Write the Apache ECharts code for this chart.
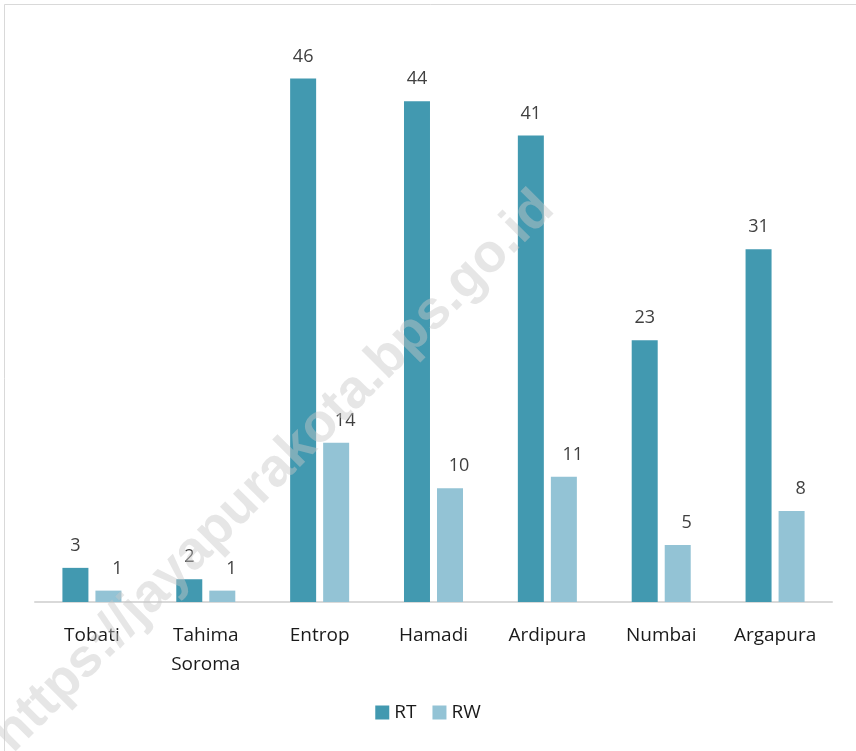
<!DOCTYPE html>
<html><head><meta charset="utf-8">
<script src="https://cdn.jsdelivr.net/npm/echarts@6/dist/echarts.min.js"></script>
<style>html,body{margin:0;padding:0;background:#fff}#c{width:856px;height:751px}</style>
</head><body><div id="c"></div>
<script>
const categories = ['Tobati', 'Tahima\nSoroma', 'Entrop', 'Hamadi', 'Ardipura', 'Numbai', 'Argapura'];
const rtValues = [3, 2, 46, 44, 41, 23, 31];
const rwValues = [1, 1, 14, 10, 11, 5, 8];
const seriesNames = ['RT', 'RW'];

const font = '"Open Sans", Lato, sans-serif';
const chart = echarts.init(document.getElementById('c'));
chart.setOption({
  animation: false,
  backgroundColor: '#fff',
  grid: { left: 35, right: 24, top: 33, bottom: 149 },
  legend: {
    data: seriesNames, bottom: 24, left: 'center', itemWidth: 14, itemHeight: 14, itemGap: 16,
    icon: 'rect',
    textStyle: { fontSize: 19, color: '#1a1a1a', fontFamily: font }
  },
  xAxis: {
    type: 'category', data: categories,
    axisLine: { lineStyle: { color: '#d9d9d9', width: 2 } },
    axisTick: { show: false },
    axisLabel: { fontSize: 19, color: '#1a1a1a', fontFamily: font, margin: 19, lineHeight: 29 }
  },
  yAxis: { type: 'value', min: 0, max: 50, show: false, splitLine: { show: false } },
  series: [
    {
      name: seriesNames[0], type: 'bar', data: rtValues, barWidth: 26, barGap: '27%',
      itemStyle: { color: '#4299b0' },
      label: { show: true, position: 'top', distance: 13, fontSize: 18, color: '#404040', fontFamily: font }
    },
    {
      name: seriesNames[1], type: 'bar', data: rwValues, barWidth: 26,
      itemStyle: { color: '#93c3d5' },
      label: { show: true, position: 'top', distance: 13, offset: [9, 0], fontSize: 18, color: '#404040', fontFamily: font }
    }
  ],
  graphic: [
    { type: 'rect', shape: { x: 4.5, y: 4.5, width: 900, height: 800 }, style: { fill: 'none', stroke: '#d9d9d9', lineWidth: 1 }, silent: true, z: -1 },
    { type: 'text', x: 274, y: 472, rotation: Math.PI / 4, z: 100,
      style: { text: 'https://jayapurakota.bps.go.id', fontSize: 54, fontWeight: 'bold', fontFamily: '"Liberation Sans", Arial, sans-serif',
        fill: 'rgba(200,200,200,0.45)', align: 'center', verticalAlign: 'middle' } }
  ]
});
</script></body></html>
